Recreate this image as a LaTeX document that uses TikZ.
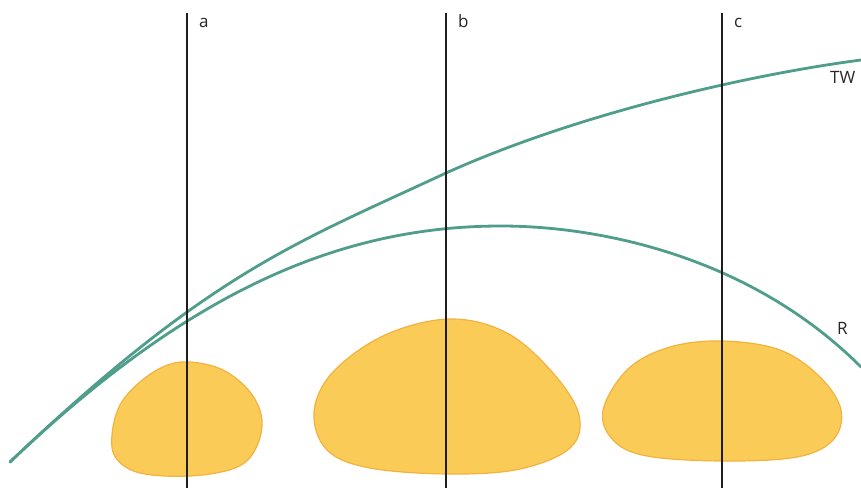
\documentclass[tikz,border=0pt]{standalone}
\usepackage{fontspec}
\setmainfont{Open Sans}
\usepackage{xcolor}
\definecolor{curvegreen}{RGB}{79,157,138}
\definecolor{tuberfill}{RGB}{251,203,88}
\definecolor{tuberedge}{RGB}{242,178,62}
\definecolor{linegray}{RGB}{30,30,30}
\usetikzlibrary{positioning, calc}

\begin{document}
\begin{tikzpicture}[x=1pt, y=-1pt, font=\fontsize{17}{19}\selectfont,
    stage/.style={line width=1.2pt, draw=linegray},
    growth/.style={line width=2.8pt, draw=curvegreen, line cap=round},
    tuber/.style={fill=tuberfill, draw=tuberedge, line width=1.2pt},
    lab/.style={inner sep=0pt, anchor=base west, text=black!85}
]
\useasboundingbox (0,0) rectangle (861,488);

% === Knollen ===
\draw[tuber] plot[smooth cycle, tension=0.6] coordinates {
    (190,362) (223,370) (250,392) (262,420) (255,450) (235,468) (190,476)
    (140,473) (116,458) (112,435) (120,405) (140,382) (165,366)};
\draw[tuber] plot[smooth cycle, tension=0.6] coordinates {
    (450,319) (507,333) (553,373) (579,415) (570,448) (520,469) (450,474)
    (370,468) (327,450) (314,412) (333,372) (385,335)};
\draw[tuber] plot[smooth cycle, tension=0.6] coordinates {
    (723,341) (780,350) (820,377) (841,410) (833,440) (797,457) (723,461)
    (647,456) (613,440) (603,410) (628,369) (670,347)};

% === Kurven TW und R ===
\coordinate (orig) at (10,462);
\coordinate (twb) at (446,173);
\coordinate (twend) at (861,60);
\coordinate (rtop) at (501,226);
\coordinate (rend) at (861,367);
\draw[growth] (orig) .. controls (210,272) and (296,243) .. (twb)
    .. controls (586,110) and (761,73) .. (twend);
\draw[growth] (orig) .. controls (180,300) and (331,226) .. (rtop)
    .. controls (601,226) and (751,257) .. (rend);
\node[lab] (twlab) at (830,83) {TW};
\node[lab] (rlab) at (837,334) {R};

% === Stadien a, b, c ===
\foreach \n/\x in {a/187, b/446, c/722} {
    \coordinate (\n top) at (\x,13);
    \coordinate (\n bot) at (\x,488);
    \draw[stage] (\n top) -- (\n bot);
    \node[lab] (\n lab) at (\x+12,27) {\n};
}

\end{tikzpicture}
\end{document}
